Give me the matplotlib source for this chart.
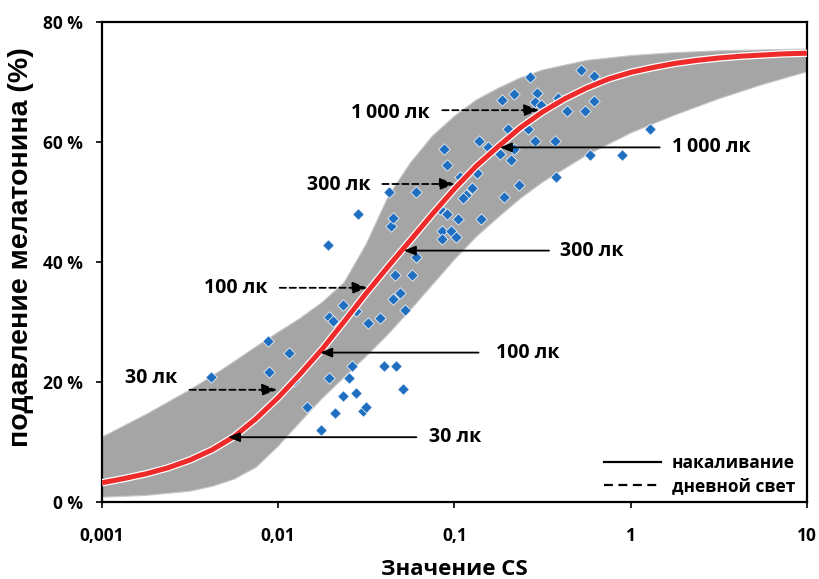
import numpy as np
import matplotlib
matplotlib.use('Agg')
import matplotlib.pyplot as plt
import matplotlib.patheffects as pe
from matplotlib.lines import Line2D

plt.rcParams['font.family'] = ['Open Sans', 'DejaVu Sans']
plt.rcParams['font.weight'] = 'bold'

# точки измерений: значение CS и подавление мелатонина (%)
cs_points = [0.00417, 0.00871, 0.0115, 0.00891, 0.0123, 0.0145, 0.0174, 0.0209,
             0.0195, 0.0251, 0.0263, 0.0234, 0.0275, 0.0302, 0.0316, 0.0398,
             0.0468, 0.0513, 0.0191, 0.0282, 0.0195, 0.0204, 0.0234, 0.0275,
             0.0324, 0.0380, 0.0447, 0.0490, 0.0525, 0.0457, 0.0575, 0.0603,
             0.0437, 0.0447, 0.0427, 0.0603, 0.0871, 0.0912, 0.107, 0.126,
             0.117, 0.112, 0.0832, 0.0912, 0.105, 0.0851, 0.0955, 0.0851,
             0.102, 0.141, 0.135, 0.138, 0.155, 0.191, 0.232, 0.182,
             0.209, 0.219, 0.200, 0.263, 0.285, 0.372, 0.376, 0.589,
             0.891, 1.29, 0.186, 0.219, 0.269, 0.295, 0.285, 0.309,
             0.389, 0.437, 0.525, 0.617, 0.617, 0.550]
supp_points = [20.8, 26.9, 24.9, 21.7, 20.2, 15.8, 12.0, 14.8,
               20.6, 20.6, 22.7, 17.7, 18.2, 15.2, 15.8, 22.7,
               22.7, 18.8, 42.8, 48.0, 30.9, 30.1, 32.8, 31.9,
               29.8, 30.7, 33.9, 34.9, 32.0, 37.8, 37.8, 40.9,
               46.0, 47.4, 51.7, 51.7, 58.9, 56.2, 54.1, 52.3,
               51.2, 50.6, 48.9, 48.0, 47.1, 45.1, 45.1, 43.9,
               44.1, 47.1, 54.9, 60.1, 59.1, 50.9, 52.8, 58.0,
               57.0, 58.9, 62.1, 62.1, 60.1, 60.1, 54.2, 57.9,
               57.9, 62.1, 67.0, 68.0, 70.9, 68.2, 66.7, 66.2,
               67.3, 65.1, 72.0, 71.0, 66.9, 65.1]

# модельная кривая
cs_curve = [0.001, 0.00133, 0.00178, 0.00237, 0.00316, 0.00422, 0.00562, 0.0075,
            0.01, 0.0133, 0.0178, 0.0237, 0.0316, 0.0422, 0.0562, 0.075,
            0.1, 0.133, 0.178, 0.237, 0.316, 0.422, 0.562, 0.75,
            1, 1.33, 1.78, 2.37, 3.16, 4.22, 5.62, 7.5, 10]
supp_curve = [3.2, 3.9, 4.7, 5.7, 7.0, 8.7, 10.9, 13.9,
              17.4, 21.3, 25.5, 30.1, 34.8, 39.3, 43.6, 48.0,
              52.2, 56.0, 59.3, 62.4, 65.0, 67.2, 69.0, 70.5,
              71.6, 72.4, 73.1, 73.6, 74.0, 74.3, 74.5, 74.7, 74.8]

# серая полоса
cs_upper = [0.001, 0.00178, 0.00316, 0.00422, 0.00562, 0.0075, 0.01, 0.0133,
            0.0178, 0.0237, 0.0316, 0.0422, 0.0562, 0.075, 0.1, 0.133,
            0.178, 0.237, 0.316, 0.562, 1, 1.78, 3.16, 5.62, 10]
band_upper = [10.8, 14.6, 18.7, 21.0, 23.4, 25.9, 28.3, 30.6,
              33.3, 36.6, 43.0, 51.0, 56.5, 61.0, 64.3, 67.0,
              69.0, 70.7, 72.0, 73.6, 74.4, 74.9, 75.2, 75.35, 75.5]
cs_lower = [0.001, 0.00178, 0.00316, 0.00422, 0.00562, 0.0075, 0.01, 0.0133,
            0.0178, 0.0237, 0.0316, 0.0422, 0.0562, 0.075, 0.1, 0.133,
            0.178, 0.237, 0.316, 0.562, 1, 1.78, 3.16, 5.62, 10]
band_lower = [0.8, 1.1, 1.8, 2.6, 3.8, 5.8, 9.3, 13.3,
              17.3, 20.8, 24.3, 28.0, 32.0, 36.2, 40.4, 44.2,
              47.5, 50.6, 53.3, 57.8, 61.5, 64.5, 67.2, 69.6, 71.7]

# стрелки: дневной свет (пунктир)
day_labels = ['30 лк', '100 лк', '300 лк', '1\u2009000 лк']
day_tip_cs = [0.00986, 0.0321, 0.1005, 0.302]
day_tail_cs = [0.00314, 0.0102, 0.039, 0.0853]
day_y = [18.7, 35.7, 53.0, 65.3]
day_text_cs = [0.00269, 0.00866, 0.0333, 0.0721]
day_text_y = [20.6, 35.7, 52.9, 64.9]

# стрелки: накаливание (сплошные)
inc_labels = ['30 лк', '100 лк', '300 лк', '1\u2009000 лк']
inc_tip_cs = [0.00519, 0.0173, 0.0516, 0.181]
inc_tail_cs = [0.0608, 0.137, 0.344, 1.46]
inc_y = [10.8, 24.9, 41.9, 59.1]
inc_text_cs = [0.0718, 0.171, 0.398, 1.71]

y_ticks = [0, 20, 40, 60, 80]
y_labels = ['0 %', '20 %', '40 %', '60 %', '80 %']
x_ticks = [0.001, 0.01, 0.1, 1, 10]
x_labels = ['0,001', '0,01', '0,1', '1', '10']

fig = plt.figure(figsize=(8.19, 5.79), dpi=100)
ax = fig.add_axes([0.1245, 0.133, 0.8608, 0.829])

# полоса
poly_x = list(cs_upper) + list(cs_lower[::-1])
poly_y = list(band_upper) + list(band_lower[::-1])
ax.fill(poly_x, poly_y, color='#a5a5a5', lw=0.8, ec='#c8c8c8', zorder=1)

ax.scatter(cs_points, supp_points, marker='D', s=34, color='#1f6fc0',
           edgecolors='white', linewidths=0.5, zorder=3)

ax.plot(cs_curve, supp_curve, color='#ee2a2a', lw=3.6, solid_capstyle='butt', zorder=4,
        path_effects=[pe.Stroke(linewidth=5.4, foreground='white'), pe.Normal()])

for lab, tip, tail, y, tx, ty in zip(day_labels, day_tip_cs, day_tail_cs, day_y,
                                     day_text_cs, day_text_y):
    ax.annotate('', xy=(tip, y), xytext=(tail, y), zorder=5,
                arrowprops=dict(arrowstyle='-|>,head_length=0.9,head_width=0.35',
                                mutation_scale=10, color='black', lw=1.3,
                                linestyle=(0, (3.5, 2)), shrinkA=0, shrinkB=0))
    ax.text(tx, ty, lab, ha='right', va='center', fontsize=14, zorder=6)

for lab, tip, tail, y, tx in zip(inc_labels, inc_tip_cs, inc_tail_cs, inc_y, inc_text_cs):
    ax.annotate('', xy=(tip, y), xytext=(tail, y), zorder=5,
                arrowprops=dict(arrowstyle='-|>,head_length=0.7,head_width=0.28',
                                mutation_scale=10, color='black', lw=1.3,
                                shrinkA=0, shrinkB=0))
    ax.text(tx, y, lab, ha='left', va='center', fontsize=14, zorder=6)

ax.set_xscale('log')
ax.set_xlim(0.001, 10)
ax.set_ylim(0, 80)
ax.set_xticks(x_ticks)
ax.set_xticklabels(x_labels)
ax.minorticks_off()
ax.set_yticks(y_ticks)
ax.set_yticklabels(y_labels)
ax.tick_params(axis='both', direction='out', length=4, width=1.2, labelsize=12.5)
ax.tick_params(axis='x', pad=14)
ax.tick_params(axis='y', pad=10)
for s in ax.spines.values():
    s.set_linewidth(1.6)

ax.set_xlabel('Значение CS', fontsize=16, fontweight='bold', labelpad=10)
ax.set_ylabel('подавление мелатонина (%)', fontsize=20.5, fontweight='bold',
              family=['Liberation Sans', 'DejaVu Sans'])
ax.yaxis.set_label_coords(-0.096, 0.531)

handles = [Line2D([], [], color='black', lw=1.6),
           Line2D([], [], color='black', lw=1.6, linestyle=(0, (4, 2.5)))]
ax.legend(handles, ['накаливание', 'дневной свет'], loc='lower right', frameon=False,
          fontsize=12.5, handlelength=3.3, handletextpad=0.6, labelspacing=0.3,
          borderaxespad=0.0, bbox_to_anchor=(0.993, 0.0))

fig.savefig('out.png', dpi=100)
